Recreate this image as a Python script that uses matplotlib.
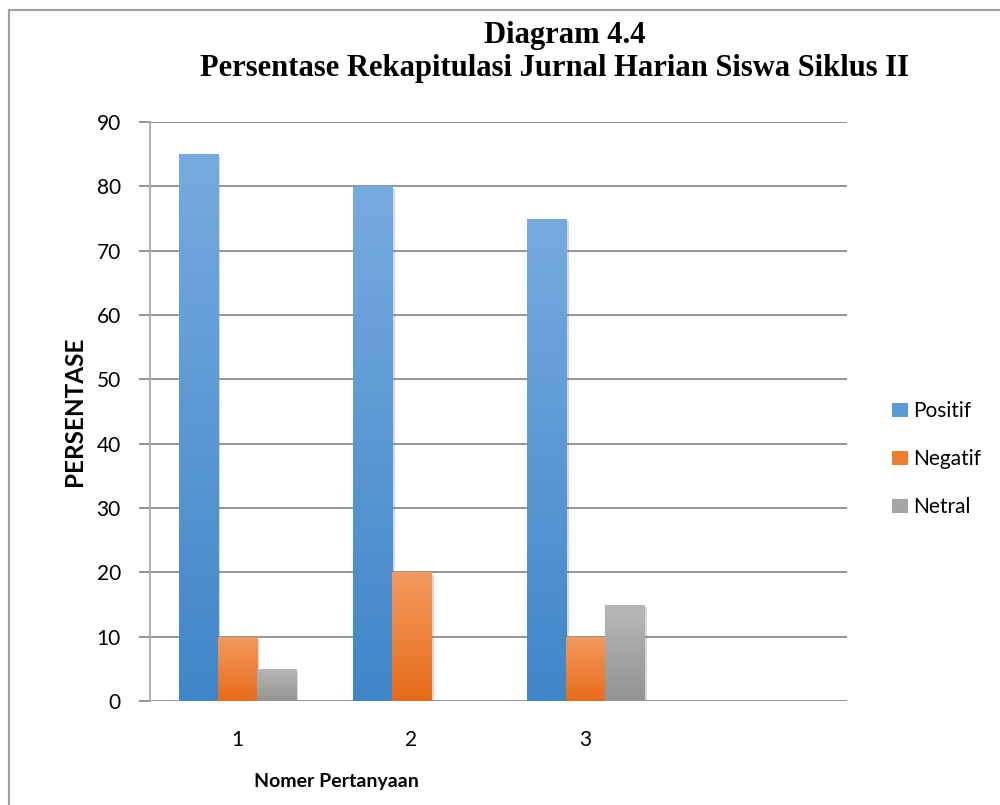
import numpy as np
import matplotlib.pyplot as plt
from matplotlib.patches import Rectangle
from matplotlib.colors import LinearSegmentedColormap
import matplotlib.patheffects as pe

# data
kategori = [1, 2, 3]
positif = [85, 80, 75]
negatif = [10, 20, 10]
netral = [5, 0, 15]
nama_seri = ['Positif', 'Negatif', 'Netral']

# warna gradasi (atas, bawah) dan warna legenda
warna = {
    'Positif': ('#76abdf', '#3f86c9', '#5b9bd5'),
    'Negatif': ('#f3995e', '#e76c1a', '#ed7d31'),
    'Netral': ('#b8b8b8', '#939393', '#a5a5a5'),
}

plt.rcParams['font.family'] = ['Lato', 'DejaVu Sans']

fig = plt.figure(figsize=(10, 8.05), dpi=100)
ax = fig.add_axes([0.15, 0.1292, 0.697, 0.7192])

w = 0.224
x = np.array(kategori, dtype=float)
seri = [positif, negatif, netral]

semua_bar = []
for i, (nama, nilai) in enumerate(zip(nama_seri, seri)):
    atas, bawah, tengah = warna[nama]
    bars = ax.bar(x + (i - 1) * w, nilai, width=w, color=tengah, label=nama,
                  zorder=3, linewidth=0)
    semua_bar.extend(bars)
    cmap = LinearSegmentedColormap.from_list(nama, [bawah, atas])
    grad = np.linspace(0, 1, 256).reshape(-1, 1)
    for b in bars:
        if b.get_height() <= 0:
            continue
        x0, h = b.get_x(), b.get_height()
        im = ax.imshow(grad, cmap=cmap, origin='lower', aspect='auto',
                       extent=[x0, x0 + b.get_width(), 0, h], zorder=4)
        im.set_clip_path(b)

ax.set_xlim(0.5, 4.5)
ax.set_ylim(0, 90)
ax.set_yticks(range(0, 91, 10))
ax.set_xticks(kategori)
ax.set_xticklabels([str(k) for k in kategori])

ax.yaxis.grid(True, color='#8c8c8c', linewidth=1.3, zorder=0)
ax.set_axisbelow(True)
for s in ['top', 'right', 'bottom']:
    ax.spines[s].set_visible(False)
ax.spines['left'].set_color('#a6a6a6')
ax.spines['left'].set_linewidth(1.3)

ax.tick_params(axis='y', length=8, width=1.3, color='#8c8c8c', pad=13, labelsize=15)
ax.tick_params(axis='x', length=0, pad=21, labelsize=15)

# judul
fig.text(0.565, 1 - 43 / 805, 'Diagram 4.4', ha='center', va='baseline',
         family='Liberation Serif', fontweight='bold', fontsize=22)
fig.text(0.555, 1 - 76 / 805, 'Persentase Rekapitulasi Jurnal Harian Siswa Siklus II',
         ha='center', va='baseline', family='Liberation Serif', fontweight='bold', fontsize=22)

fig.text(0.075, 1 - 411 / 805, 'PERSENTASE', rotation=90, ha='center', va='center',
         fontweight='bold', fontsize=17.5)
fig.text(0.336, 1 - 781 / 805, 'Nomer Pertanyaan', ha='center', va='center',
         fontweight='bold', fontsize=14)

leg = fig.legend(loc='center left', bbox_to_anchor=(0.884, 1 - 459 / 805), frameon=False,
                 fontsize=15, handlelength=0.75, handleheight=0.65, handletextpad=0.25,
                 labelspacing=1.35, borderaxespad=0)

# bayangan tipis di bawah batang (setelah legenda dibuat)
for b in semua_bar:
    b.set_path_effects([pe.SimplePatchShadow(offset=(2, -2), shadow_rgbFace='#7f7f7f', alpha=0.3),
                        pe.Normal()])

# bingkai
fig.patches.append(Rectangle((0.009, -0.1), 1.2, 1.1 - 0.012, transform=fig.transFigure,
                             fill=False, edgecolor='#a0a0a0', linewidth=1.5))

fig.savefig('out.png', dpi=100)
